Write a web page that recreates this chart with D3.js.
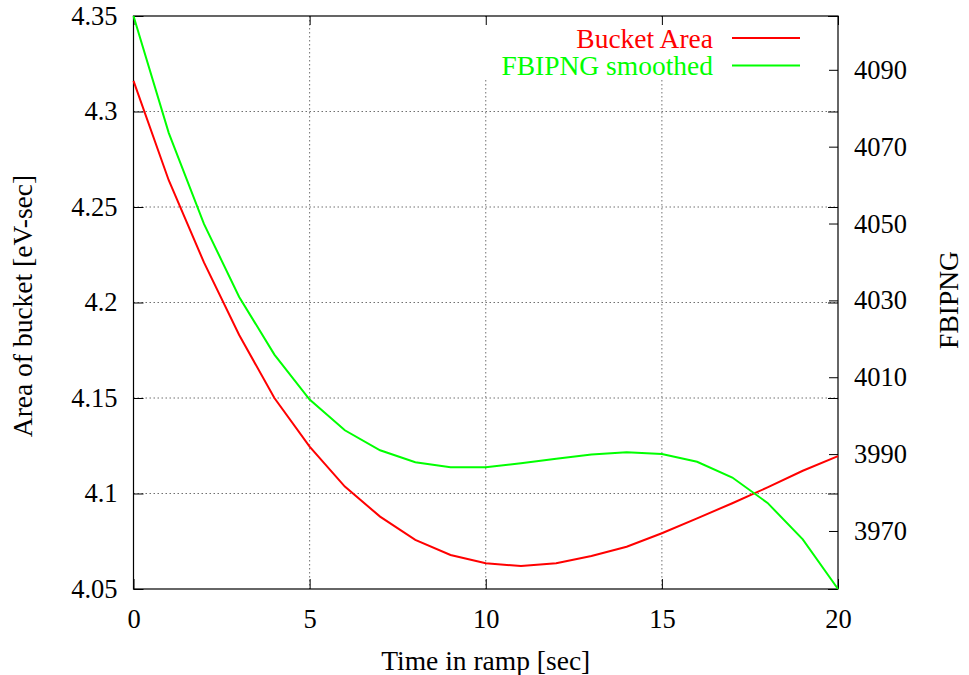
<!DOCTYPE html>
<html>
<head>
<meta charset="utf-8">
<script src="https://cdn.jsdelivr.net/npm/d3@7"></script>
<style>
  body { margin: 0; background: #fff; }
  text { font-family: "Liberation Serif", "Times New Roman", serif; }
  .grid line { stroke: #707070; stroke-width: 1; stroke-dasharray: 1.5,2.5; }
  .axis path { display: none; }
  .axis line { stroke: #000; }
  .axis text { font-size: 26.5px; fill: #000; font-family: "Liberation Serif", serif; }
  .label { font-size: 27.5px; fill: #000; }
</style>
</head>
<body>
<div id="graph"></div>
<script>
// the data, one point per second of the ramp
var times = [0, 1, 2, 3, 4, 5, 6, 7, 8, 9, 10, 11, 12, 13, 14, 15, 16, 17, 18, 19, 20];
var bucketArea = [4.316, 4.264, 4.221, 4.183, 4.150, 4.1245, 4.1036, 4.0879, 4.0757, 4.0678, 4.0635,
                  4.062, 4.0635, 4.0673, 4.0721, 4.0792, 4.087, 4.0949, 4.1032, 4.1119, 4.1196];
var fbipng = [4104.0, 4073.6, 4049.9, 4030.9, 4015.9, 4004.2, 3996.2, 3991.0, 3987.9, 3986.6, 3986.6,
              3987.6, 3988.8, 3989.9, 3990.5, 3990.0, 3988.0, 3983.9, 3977.3, 3967.8, 3954.9];

var xTicks = [0, 5, 10, 15, 20];
var yTicks = [4.05, 4.1, 4.15, 4.2, 4.25, 4.3, 4.35];
var y2Ticks = [3970, 3990, 4010, 4030, 4050, 4070, 4090];
var seriesNames = ["Bucket Area", "FBIPNG smoothed"];
var seriesColors = ["#ff0000", "#00ff00"];

// Set the dimensions of the canvas
var margin = {top: 16, right: 131, bottom: 86, left: 133.5},
    width = 969 - margin.left - margin.right,
    height = 675 - margin.top - margin.bottom;

// Set the ranges
var x = d3.scaleLinear().domain([0, 20]).range([0, width]);
var y = d3.scaleLinear().domain([4.05, 4.35]).range([height, 0]);
var y2 = d3.scaleLinear().domain([3954.9, 4104.0]).range([height, 0]);

var svg = d3.select("#graph")
    .append("svg")
        .attr("width", 969)
        .attr("height", 675)
    .append("g")
        .attr("transform", "translate(" + margin.left + "," + margin.top + ")");

// grid
var grid = svg.append("g").attr("class", "grid");
grid.selectAll(".gx")
    .data(xTicks.slice(1, -1))
    .enter().append("line")
    .attr("x1", function(d) { return x(d); })
    .attr("x2", function(d) { return x(d); })
    .attr("y1", 0)
    .attr("y2", height);
grid.selectAll(".gy")
    .data(yTicks.slice(1, -1))
    .enter().append("line")
    .attr("x1", 0)
    .attr("x2", width)
    .attr("y1", function(d) { return y(d); })
    .attr("y2", function(d) { return y(d); });

// opaque key box
svg.append("rect")
    .attr("x", x(9.6))
    .attr("y", 1)
    .attr("width", width - x(9.6) - 1)
    .attr("height", 62)
    .style("fill", "#fff");

// Axes, ticks pointing into the plot
svg.append("g")
    .attr("class", "axis")
    .attr("transform", "translate(0," + height + ")")
    .call(d3.axisBottom(x).tickValues(xTicks).tickSize(-10).tickPadding(20).tickFormat(d3.format("d")));
svg.append("g")
    .attr("class", "axis")
    .call(d3.axisTop(x).tickValues(xTicks).tickSize(-9).tickFormat(""));
svg.append("g")
    .attr("class", "axis")
    .call(d3.axisLeft(y).tickValues(yTicks).tickSize(-10).tickPadding(16).tickFormat(d3.format("")));
svg.append("g")
    .attr("class", "axis")
    .attr("transform", "translate(" + width + ",0)")
    .call(d3.axisRight(y).tickValues(yTicks).tickSize(-10).tickFormat(""));
svg.append("g")
    .attr("class", "axis")
    .attr("transform", "translate(" + width + ",0)")
    .call(d3.axisRight(y2).tickValues(y2Ticks).tickSize(-9).tickPadding(16).tickFormat(d3.format("d")));

// frame
svg.append("rect")
    .attr("width", width)
    .attr("height", height)
    .style("fill", "none")
    .style("stroke", "#000")
    .style("stroke-width", 1.2);

// Define the lines
var line1 = d3.line()
    .x(function(d, i) { return x(times[i]); })
    .y(function(d) { return y(d); });
var line2 = d3.line()
    .x(function(d, i) { return x(times[i]); })
    .y(function(d) { return y2(d); });

svg.append("path")
    .datum(bucketArea)
    .attr("d", line1)
    .style("fill", "none")
    .style("stroke", seriesColors[0])
    .style("stroke-width", 2);
svg.append("path")
    .datum(fbipng)
    .attr("d", line2)
    .style("fill", "none")
    .style("stroke", seriesColors[1])
    .style("stroke-width", 2);

// key
var key = svg.selectAll(".key")
    .data(seriesNames)
    .enter().append("g")
    .attr("transform", function(d, i) { return "translate(0," + (22 + i * 27.5) + ")"; });
key.append("text")
    .attr("x", 713 - margin.left)
    .attr("y", 9.5)
    .attr("text-anchor", "end")
    .attr("class", "label")
    .style("fill", function(d, i) { return seriesColors[i]; })
    .text(function(d) { return d; });
key.append("line")
    .attr("x1", 732 - margin.left)
    .attr("x2", 800 - margin.left)
    .attr("y1", 0)
    .attr("y2", 0)
    .style("stroke", function(d, i) { return seriesColors[i]; })
    .style("stroke-width", 2);

// axis labels
svg.append("text")
    .attr("class", "label")
    .attr("text-anchor", "middle")
    .attr("x", width / 2)
    .attr("y", 670 - margin.top)
    .text("Time in ramp [sec]");

svg.append("text")
    .attr("class", "label")
    .attr("text-anchor", "middle")
    .attr("transform", "translate(" + (32 - margin.left) + "," + (306 - margin.top) + ") rotate(-90)")
    .text("Area of bucket [eV-sec]");

svg.append("text")
    .attr("class", "label")
    .attr("text-anchor", "middle")
    .attr("transform", "translate(" + (958 - margin.left) + "," + (300 - margin.top) + ") rotate(-90)")
    .text("FBIPNG");
</script>
</body>
</html>
